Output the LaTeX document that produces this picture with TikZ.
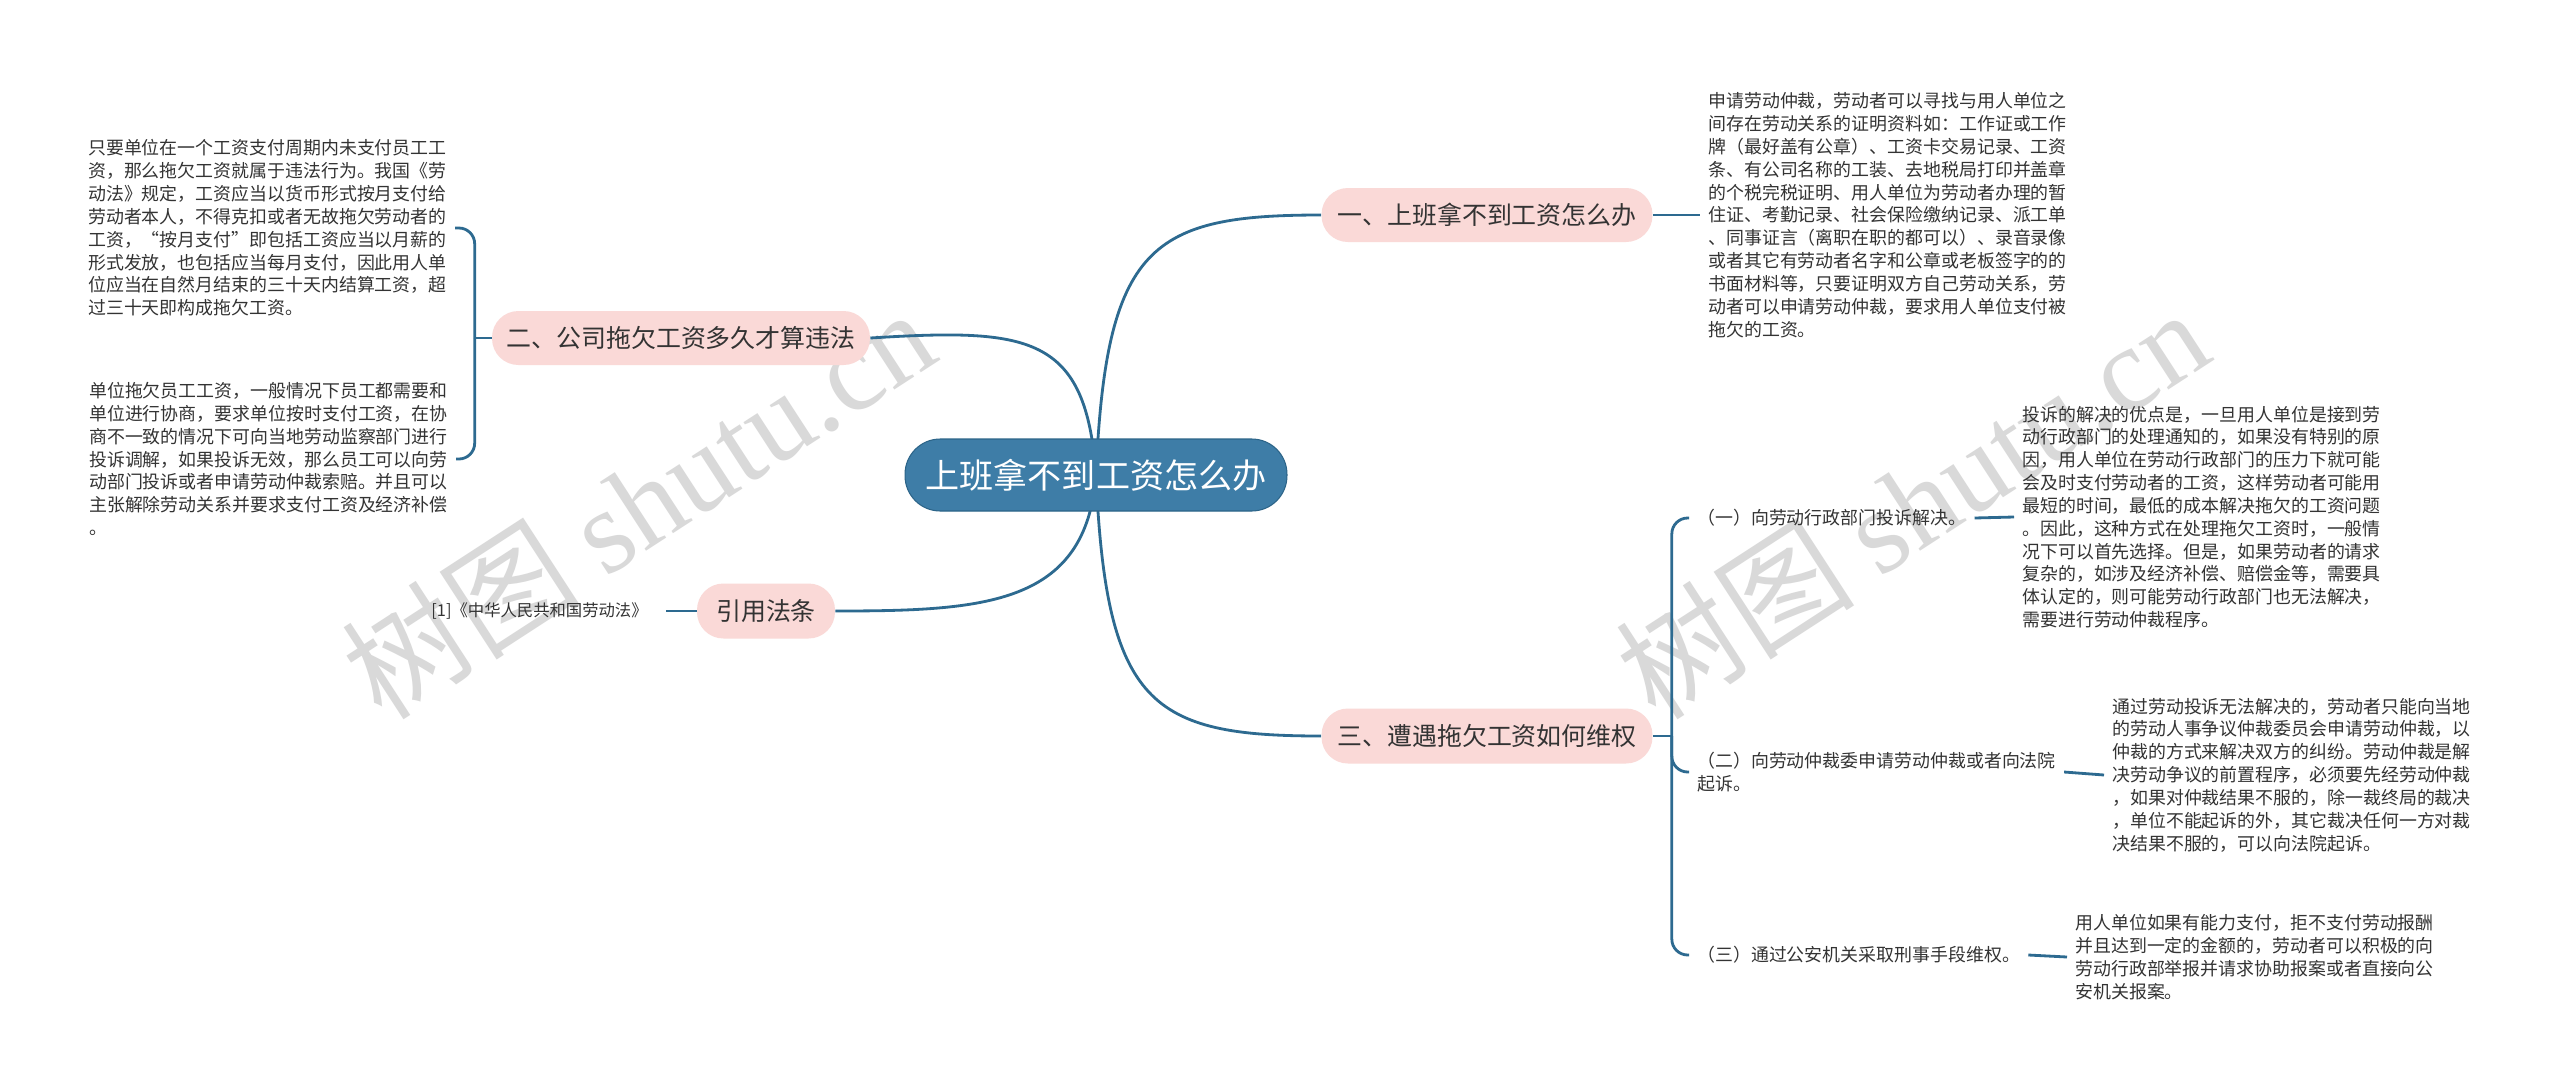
\documentclass[tikz,border=0pt]{standalone}
\usepackage{fontspec}
\setmainfont{Noto Sans CJK SC}
\newfontfamily\wmlatin{Liberation Serif}
\usetikzlibrary{calc}
\pgfdeclarelayer{background}
\pgfsetlayers{background,main}
\definecolor{rootblue}{HTML}{3E7DA7}
\definecolor{rootedge}{HTML}{2C6488}
\definecolor{linkblue}{HTML}{2D6A90}
\definecolor{branchpink}{HTML}{FAD9D7}
\definecolor{inkgray}{HTML}{333333}
\definecolor{markgray}{HTML}{D9D9D9}

\begin{document}
\begin{tikzpicture}[x=0.02cm, y=-0.02cm,
    every node/.style={text=inkgray},
    rootbox/.style={draw=rootedge, line width=0.6pt, fill=rootblue, text=white, rounded corners=20pt,
      minimum width=7.64cm, minimum height=1.44cm, inner sep=0pt, font=\fontsize{19.4}{23}\selectfont},
    branchbox/.style={fill=branchpink, rounded corners=15pt, minimum height=1.08cm, inner sep=0pt,
      font=\fontsize{14.2}{17}\selectfont},
    leaftext/.style={align=left, inner xsep=0.16cm, inner ysep=0pt, font=\fontsize{10.2}{13}\selectfont},
    link/.style={draw=linkblue, line width=1.6pt},
    brace/.style={link, rounded corners=9pt},
    watermark/.style={text=markgray, rotate=33, inner sep=0pt, font=\fontsize{68}{80}\selectfont}]
  \node[rootbox] (root) at (1096,475) {上班拿不到工资怎么办};
  \node[branchbox, minimum width=6.62cm] (b1) at (1487,215) {一、上班拿不到工资怎么办};
  \node[branchbox, minimum width=7.56cm] (b2) at (681,338) {二、公司拖欠工资多久才算违法};
  \node[branchbox, minimum width=6.62cm, minimum height=1.1cm] (b3) at (1487,736) {三、遭遇拖欠工资如何维权};
  \node[branchbox, minimum width=2.76cm, minimum height=1.1cm] (b4) at (766,611) {引用法条};

  \node[leaftext, anchor=west] (d1) at (1700,215)
    {申请劳动仲裁，劳动者可以寻找与用人单位之\\间存在劳动关系的证明资料如：工作证或工作\\牌（最好盖有公章）、工资卡交易记录、工资\\条、有公司名称的工装、去地税局打印并盖章\\的个税完税证明、用人单位为劳动者办理的暂\\住证、考勤记录、社会保险缴纳记录、派工单\\、同事证言（离职在职的都可以）、录音录像\\或者其它有劳动者名字和公章或老板签字的的\\书面材料等，只要证明双方自己劳动关系，劳\\动者可以申请劳动仲裁，要求用人单位支付被\\拖欠的工资。};
  \node[leaftext, anchor=east] (t2a) at (455,228)
    {只要单位在一个工资支付周期内未支付员工工\\资，那么拖欠工资就属于违法行为。我国《劳\\动法》规定，工资应当以货币形式按月支付给\\劳动者本人，不得克扣或者无故拖欠劳动者的\\工资，“按月支付”即包括工资应当以月薪的\\形式发放，也包括应当每月支付，因此用人单\\位应当在自然月结束的三十天内结算工资，超\\过三十天即构成拖欠工资。};
  \node[leaftext, anchor=east] (t2b) at (456,459)
    {单位拖欠员工工资，一般情况下员工都需要和\\单位进行协商，要求单位按时支付工资，在协\\商不一致的情况下可向当地劳动监察部门进行\\投诉调解，如果投诉无效，那么员工可以向劳\\动部门投诉或者申请劳动仲裁索赔。并且可以\\主张解除劳动关系并要求支付工资及经济补偿\\。};
  \node[leaftext, anchor=east, inner xsep=0.36cm, font=\fontsize{9.3}{11}\selectfont] (cite) at (666,611)
    {[1]《中华人民共和国劳动法》};
  \node[leaftext, anchor=west] (c1) at (1689,518) {（一）向劳动行政部门投诉解决。};
  \node[leaftext, anchor=west] (c2) at (1689,772) {（二）向劳动仲裁委申请劳动仲裁或者向法院\\起诉。};
  \node[leaftext, anchor=west] (c3) at (1689,955) {（三）通过公安机关采取刑事手段维权。};
  \node[leaftext, anchor=west] (e1) at (2014,517)
    {投诉的解决的优点是，一旦用人单位是接到劳\\动行政部门的处理通知的，如果没有特别的原\\因，用人单位在劳动行政部门的压力下就可能\\会及时支付劳动者的工资，这样劳动者可能用\\最短的时间，最低的成本解决拖欠的工资问题\\。因此，这种方式在处理拖欠工资时，一般情\\况下可以首先选择。但是，如果劳动者的请求\\复杂的，如涉及经济补偿、赔偿金等，需要具\\体认定的，则可能劳动行政部门也无法解决，\\需要进行劳动仲裁程序。};
  \node[leaftext, anchor=west] (e2) at (2104,775)
    {通过劳动投诉无法解决的，劳动者只能向当地\\的劳动人事争议仲裁委员会申请劳动仲裁，以\\仲裁的方式来解决双方的纠纷。劳动仲裁是解\\决劳动争议的前置程序，必须要先经劳动仲裁\\，如果对仲裁结果不服的，除一裁终局的裁决\\，单位不能起诉的外，其它裁决任何一方对裁\\决结果不服的，可以向法院起诉。};
  \node[leaftext, anchor=west] (e3) at (2067,957)
    {用人单位如果有能力支付，拒不支付劳动报酬\\并且达到一定的金额的，劳动者可以积极的向\\劳动行政部举报并请求协助报案或者直接向公\\安机关报案。};

  \begin{pgfonlayer}{background}
    \path[use as bounding box, fill=white] (0,0) rectangle (2560,1089);
    \node[watermark] (wm1) at (638,503) {树图 {\wmlatin shutu.cn}};
    \node[watermark] (wm2) at (1912,503) {树图 {\wmlatin shutu.cn}};
    \draw[link] (root.center) .. controls +(10,-230) and +(-170,0) .. (b1.west);
    \draw[link] (root.center) .. controls +(-10,-140) and +(160,-10) .. (b2.east);
    \draw[link] (root.center) .. controls +(10,230) and +(-170,0) .. (b3.west);
    \draw[link] (root.center) .. controls +(-10,130) and +(150,0) .. (b4.east);
  \end{pgfonlayer}

  \draw[link] (b1.east) -- (d1.west);
  \draw[link] (b4.west) -- (cite.east);
  \draw[link] (b2.west) -- ++(-17,0) coordinate (s2);
  \draw[brace] (s2) |- (t2a.east);
  \draw[brace] (s2) |- (t2b.east);
  \draw[link] (b3.east) -- ++(19,0) coordinate (s3);
  \draw[brace] (s3) |- (c1.west);
  \draw[brace] (s3) |- (c2.west);
  \draw[brace] (s3) |- (c3.west);
  \draw[link] (c1.east) -- (e1.west);
  \draw[link] (c2.east) -- (e2.west);
  \draw[link] (c3.east) -- (e3.west);
\end{tikzpicture}
\end{document}
